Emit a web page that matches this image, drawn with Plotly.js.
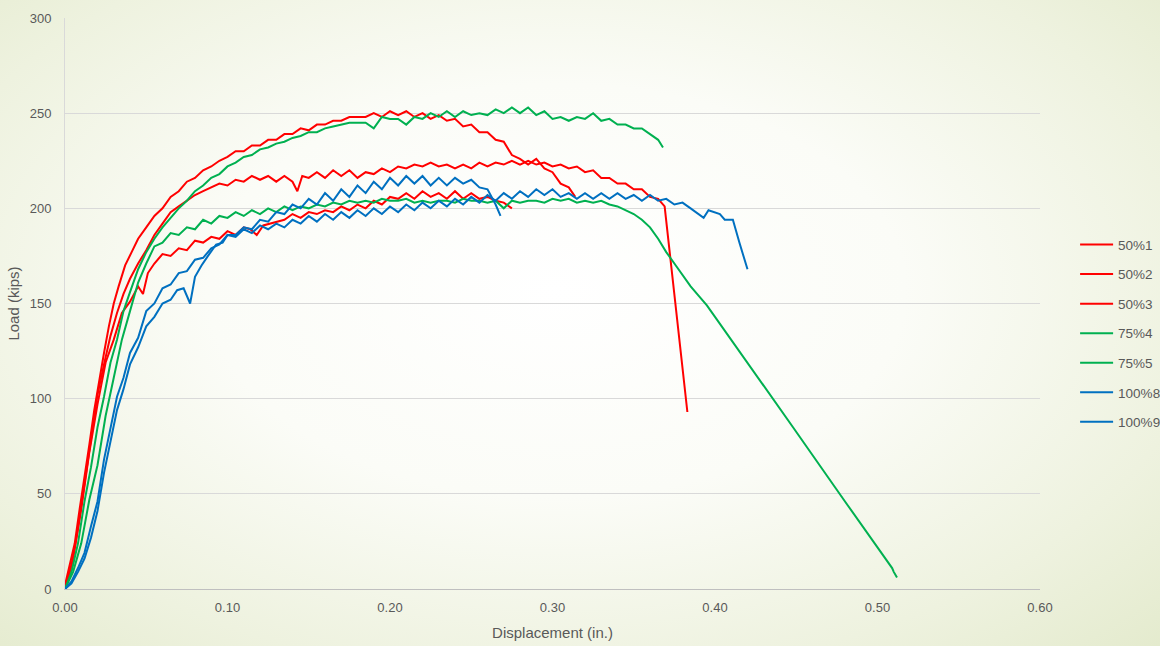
<!DOCTYPE html>
<html>
<head>
<meta charset="utf-8">
<script src="https://cdn.plot.ly/plotly-3.0.1.min.js"></script>
<style>
html,body{margin:0;padding:0;width:1160px;height:646px;overflow:hidden;}
body{background:radial-gradient(ellipse 75% 80% at 48% 45%, #ffffff 0%, #fbfcf7 40%, #eef2df 75%, #e3eacc 100%);}
#chart{width:1160px;height:646px;}
</style>
</head>
<body>
<div id="chart"></div>
<script>
// Load (kips) vs Displacement (in.) — [displacement, load] pairs
const seriesNames = ["50%1","50%2","50%3","75%4","75%5","100%8","100%9"];
const seriesColors = ["#FF0000","#FF0000","#FF0000","#00B050","#00B050","#0070C0","#0070C0"];

const s50_1 = [[0,2],[0.003,13],[0.006,24],[0.009,42],[0.012,58],[0.015,76],[0.018,94],[0.021,110],[0.024,124],[0.027,138],
[0.030,150],[0.033,159],[0.037,170],[0.041,177],[0.045,184],[0.050,190],[0.055,196],[0.060,200],[0.065,206],[0.070,209],
[0.075,214],[0.080,216],[0.085,220],[0.090,222],[0.095,225],[0.100,227],[0.105,230],[0.110,230],[0.115,233],[0.120,233],
[0.125,236],[0.130,236],[0.135,239],[0.140,239],[0.145,242],[0.150,241],[0.155,244],[0.160,244],[0.165,246],[0.170,246],
[0.175,248],[0.180,248],[0.185,248],[0.190,250],[0.195,248],[0.200,251],[0.205,249],[0.210,251],[0.215,248],[0.220,250],
[0.225,247],[0.230,249],[0.235,246],[0.240,247],[0.245,243],[0.250,244],[0.255,240],[0.260,240],[0.265,236],[0.270,235],
[0.275,228],[0.280,226],[0.285,223],[0.290,226],[0.295,221],[0.300,219],[0.305,213],[0.310,211],[0.314,206]];

const s50_2 = [[0,0],[0.004,12],[0.008,32],[0.012,56],[0.016,79],[0.020,102],[0.024,118],[0.028,133],[0.032,145],[0.036,155],
[0.040,163],[0.045,171],[0.050,178],[0.055,186],[0.060,192],[0.065,198],[0.070,201],[0.075,204],[0.080,207],[0.085,209],
[0.090,211],[0.095,213],[0.100,212],[0.105,215],[0.110,214],[0.115,217],[0.120,215],[0.125,217],[0.130,214],[0.135,217],
[0.140,214],[0.143,209],[0.146,217],[0.150,216],[0.155,219],[0.160,216],[0.165,220],[0.170,217],[0.175,220],[0.180,216],
[0.185,219],[0.190,218],[0.195,221],[0.200,219],[0.205,222],[0.210,221],[0.215,223],[0.220,222],[0.225,224],[0.230,222],
[0.235,223],[0.240,221],[0.245,223],[0.250,221],[0.255,224],[0.260,222],[0.265,224],[0.270,223],[0.275,225],[0.280,223],
[0.285,225],[0.290,223],[0.295,224],[0.300,222],[0.305,223],[0.310,221],[0.315,222],[0.320,219],[0.325,220],[0.330,216],
[0.335,216],[0.340,213],[0.345,213],[0.350,210],[0.355,210],[0.360,206],[0.365,205],[0.369,201],[0.383,93]];

const s50_3 = [[0,0],[0.005,16],[0.010,42],[0.015,72],[0.020,97],[0.025,119],[0.030,131],[0.035,145],[0.040,151],[0.045,159],
[0.048,155],[0.051,166],[0.055,171],[0.060,176],[0.065,175],[0.070,179],[0.075,178],[0.080,183],[0.085,182],[0.090,185],
[0.095,184],[0.100,188],[0.105,186],[0.110,190],[0.114,189],[0.118,186],[0.122,191],[0.126,192],[0.130,193],[0.135,194],
[0.140,197],[0.145,195],[0.150,198],[0.155,197],[0.160,199],[0.165,198],[0.170,201],[0.175,199],[0.180,202],[0.185,200],
[0.190,204],[0.195,202],[0.200,206],[0.205,205],[0.210,208],[0.215,205],[0.220,209],[0.225,206],[0.230,208],[0.235,205],
[0.240,209],[0.245,205],[0.250,208],[0.255,205],[0.260,206],[0.265,204],[0.270,203],[0.275,200]];

const s75_4 = [[0,0],[0.004,9],[0.008,24],[0.012,46],[0.016,64],[0.020,85],[0.024,101],[0.028,119],[0.032,131],[0.036,146],
[0.040,156],[0.045,168],[0.050,177],[0.055,184],[0.060,190],[0.065,195],[0.070,200],[0.075,204],[0.080,209],[0.085,212],
[0.090,216],[0.095,218],[0.100,222],[0.105,224],[0.110,227],[0.115,228],[0.120,231],[0.125,232],[0.130,234],[0.135,235],
[0.140,237],[0.145,238],[0.150,240],[0.155,240],[0.160,242],[0.165,243],[0.170,244],[0.175,245],[0.180,245],[0.185,245],
[0.190,242],[0.195,248],[0.200,247],[0.205,247],[0.210,244],[0.215,248],[0.220,247],[0.225,250],[0.230,248],[0.235,251],
[0.240,248],[0.245,251],[0.250,249],[0.255,250],[0.260,249],[0.265,252],[0.270,250],[0.275,253],[0.280,250],[0.285,253],
[0.290,249],[0.295,251],[0.300,247],[0.305,248],[0.310,246],[0.315,248],[0.320,247],[0.325,250],[0.330,246],[0.335,247],
[0.340,244],[0.345,244],[0.350,242],[0.355,242],[0.360,239],[0.365,236],[0.368,232]];

const s75_5 = [[0,0],[0.005,9],[0.010,24],[0.015,47],[0.020,65],[0.025,91],[0.030,111],[0.035,131],[0.040,146],[0.045,161],
[0.050,171],[0.055,180],[0.060,182],[0.065,187],[0.070,186],[0.075,190],[0.080,189],[0.085,194],[0.090,192],[0.095,196],
[0.100,195],[0.105,198],[0.110,196],[0.115,199],[0.120,197],[0.125,200],[0.130,198],[0.135,201],[0.140,199],[0.145,201],
[0.150,200],[0.155,202],[0.160,201],[0.165,203],[0.170,202],[0.175,204],[0.180,203],[0.185,204],[0.190,203],[0.195,205],
[0.200,204],[0.205,204],[0.210,205],[0.215,203],[0.220,204],[0.225,203],[0.230,204],[0.235,204],[0.240,203],[0.245,205],
[0.250,204],[0.255,204],[0.260,203],[0.265,204],[0.270,200],[0.275,204],[0.280,203],[0.285,204],[0.290,204],[0.295,203],
[0.300,205],[0.305,204],[0.310,205],[0.315,203],[0.320,204],[0.325,203],[0.330,204],[0.335,202],[0.340,201],[0.345,199],
[0.350,197],[0.355,194],[0.360,190],[0.365,184],[0.370,177],[0.375,171],[0.380,165],[0.385,159],[0.390,154],[0.395,149],
[0.400,143],[0.420,119],[0.448,85],[0.480,46],[0.509,11],[0.510,9],[0.512,6]];

const s100_8 = [[0,0],[0.004,4],[0.008,11],[0.012,19],[0.016,33],[0.020,46],[0.024,68],[0.028,84],[0.032,101],[0.036,111],
[0.040,124],[0.045,132],[0.050,146],[0.055,150],[0.060,158],[0.065,160],[0.070,166],[0.075,167],[0.080,173],[0.085,174],
[0.090,179],[0.095,181],[0.100,186],[0.105,186],[0.110,190],[0.115,189],[0.120,194],[0.125,193],[0.130,198],[0.135,197],
[0.140,202],[0.145,200],[0.150,205],[0.155,202],[0.160,208],[0.165,204],[0.170,210],[0.175,206],[0.180,212],[0.185,208],
[0.190,214],[0.195,210],[0.200,216],[0.205,212],[0.210,217],[0.215,213],[0.220,217],[0.225,212],[0.230,216],[0.235,212],
[0.240,216],[0.245,213],[0.250,215],[0.255,211],[0.260,210],[0.265,202],[0.268,196]];

const s100_9 = [[0,0],[0.004,3],[0.008,9],[0.012,16],[0.016,27],[0.020,41],[0.024,61],[0.028,77],[0.032,94],[0.036,105],
[0.040,118],[0.045,127],[0.050,138],[0.055,143],[0.060,150],[0.065,152],[0.069,157],[0.073,158],[0.077,150],[0.080,164],
[0.084,170],[0.088,175],[0.093,181],[0.097,182],[0.100,186],[0.105,185],[0.110,189],[0.115,187],[0.120,191],[0.125,189],
[0.130,192],[0.135,190],[0.140,194],[0.145,192],[0.150,196],[0.155,193],[0.160,197],[0.165,194],[0.170,198],[0.175,195],
[0.180,199],[0.185,196],[0.190,200],[0.195,197],[0.200,201],[0.205,198],[0.210,202],[0.215,199],[0.220,203],[0.225,200],
[0.230,204],[0.235,201],[0.240,205],[0.245,202],[0.250,206],[0.255,203],[0.260,207],[0.265,204],[0.270,208],[0.275,205],
[0.280,209],[0.285,206],[0.290,210],[0.295,207],[0.300,210],[0.305,206],[0.310,208],[0.315,205],[0.320,208],[0.325,205],
[0.330,208],[0.335,205],[0.340,208],[0.345,205],[0.350,207],[0.355,204],[0.360,207],[0.365,204],[0.370,205],[0.375,202],
[0.380,203],[0.385,200],[0.390,197],[0.393,195],[0.396,199],[0.400,198],[0.403,197],[0.406,194],[0.411,194],[0.415,182],
[0.420,168]];

const allSeries = [s50_1, s50_2, s50_3, s75_4, s75_5, s100_8, s100_9];

const xTickVals = [0,0.1,0.2,0.3,0.4,0.5,0.6];
const xTickText = ["0.00","0.10","0.20","0.30","0.40","0.50","0.60"];
const yTickVals = [0,50,100,150,200,250,300];

const FONT = "'Liberation Sans', Arial, sans-serif";
const GREY = "#595959";

const traces = allSeries.map((s, i) => ({
  type: "scatter",
  mode: "lines",
  name: seriesNames[i],
  legendgroup: "g" + i,
  x: s.map(p => p[0]),
  y: s.map(p => p[1]),
  line: {color: seriesColors[i], width: 2},
  hoverinfo: "skip"
}));

const layout = {
  width: 1160, height: 646,
  paper_bgcolor: "rgba(0,0,0,0)",
  plot_bgcolor: "rgba(0,0,0,0)",
  margin: {l: 65, r: 120, t: 18, b: 57, autoexpand: false},
  font: {family: FONT, color: GREY, size: 12},
  showlegend: true,
  legend: {
    x: 1.036, xanchor: "left", y: 0.63, yanchor: "top",
    font: {family: FONT, size: 13.5, color: GREY},
    tracegroupgap: 9,
    itemwidth: 33,
    bgcolor: "rgba(0,0,0,0)"
  },
  xaxis: {
    range: [0, 0.6], tickvals: xTickVals, ticktext: xTickText,
    showgrid: false, zeroline: false,
    showline: true, linecolor: "#bfbfbf", linewidth: 1,
    ticks: "outside", ticklen: 6, tickcolor: "rgba(0,0,0,0)",
    tickfont: {family: FONT, size: 13, color: GREY},
    title: {text: "Displacement (in.)", font: {family: FONT, size: 15, color: GREY}, standoff: 13},
    automargin: false, fixedrange: true
  },
  yaxis: {
    range: [0, 300], tickvals: yTickVals,
    showgrid: true, gridcolor: "#d9d9d9", gridwidth: 1, zeroline: false,
    showline: true, linecolor: "#d9d9d9", linewidth: 1,
    ticks: "outside", ticklen: 10, tickcolor: "rgba(0,0,0,0)",
    tickfont: {family: FONT, size: 13, color: GREY},
    title: {text: "Load (kips)", font: {family: FONT, size: 15, color: GREY}, standoff: 6},
    automargin: false, fixedrange: true
  }
};

Plotly.newPlot("chart", traces, layout, {staticPlot: true, displayModeBar: false});
</script>
</body>
</html>
